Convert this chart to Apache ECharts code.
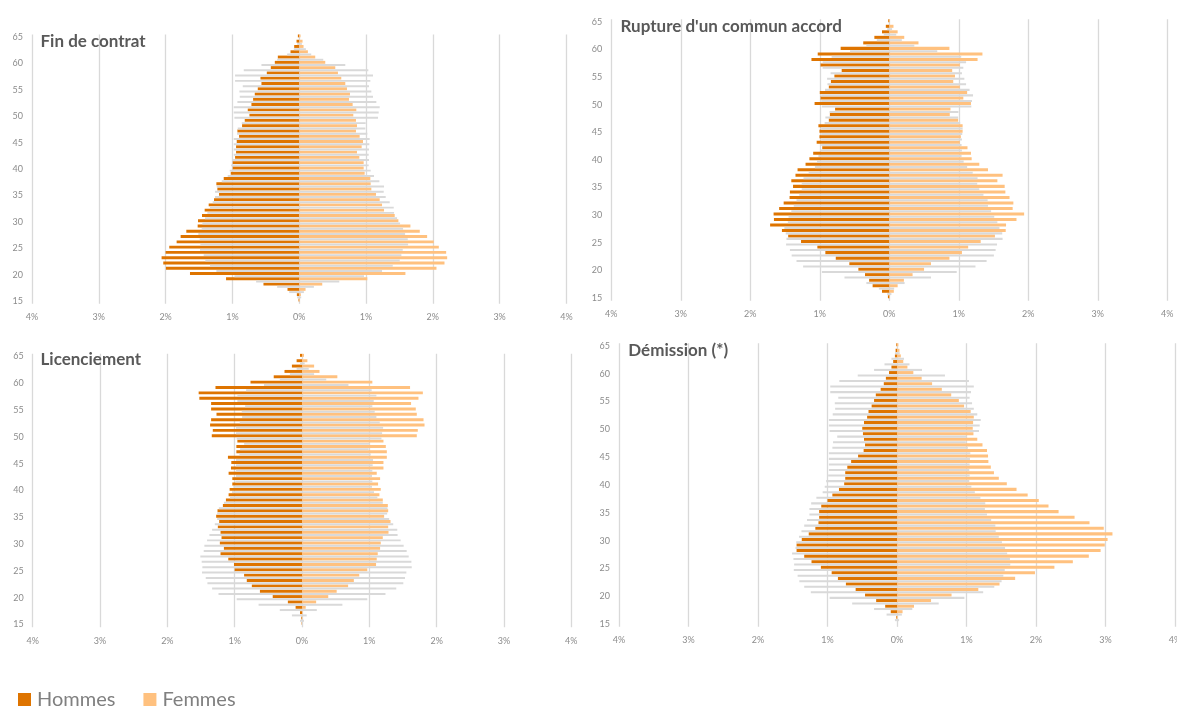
<!DOCTYPE html>
<html>
<head>
<meta charset="utf-8">
<script src="https://cdn.jsdelivr.net/npm/echarts@6/dist/echarts.min.js"></script>
<style>
html,body{margin:0;padding:0;background:#fff;}
#chart{width:1177px;height:709px;}
</style>
</head>
<body>
<div id="chart"></div>
<script>
const ages = ['15','16','17','18','19','20','21','22','23','24','25','26','27','28','29','30','31','32','33','34','35','36','37','38','39','40','41','42','43','44','45','46','47','48','49','50','51','52','53','54','55','56','57','58','59','60','61','62','63','64','65'];
const xTicks = [-4,-3,-2,-1,0,1,2,3,4];

// values in % (ages 15 -> 65); Hommes drawn to the left
const finContratHommes = [0.01,0.035,0.175,0.535,1.095,1.635,1.995,2.035,2.06,2.0,1.945,1.835,1.775,1.69,1.52,1.515,1.455,1.415,1.355,1.275,1.2,1.225,1.24,1.13,1.025,0.995,0.995,0.96,0.945,0.945,0.935,0.9,0.925,0.855,0.815,0.745,0.77,0.715,0.69,0.665,0.62,0.565,0.58,0.485,0.425,0.365,0.32,0.13,0.075,0.04,0.02];
const finContratFemmes = [0.01,0.025,0.095,0.345,1.02,1.59,2.055,2.175,2.215,2.2,2.09,2.015,1.915,1.805,1.665,1.485,1.43,1.27,1.24,1.205,1.15,1.08,1.07,1.065,0.98,0.965,0.965,0.9,0.865,0.935,0.955,0.905,0.85,0.865,0.85,0.81,0.855,0.8,0.745,0.76,0.715,0.69,0.63,0.58,0.54,0.39,0.24,0.13,0.065,0.05,0.02];

const ruptureHommes = [0.02,0.105,0.24,0.29,0.35,0.445,0.575,0.77,0.92,1.035,1.27,1.455,1.545,1.715,1.66,1.665,1.585,1.52,1.435,1.43,1.385,1.41,1.35,1.32,1.205,1.15,1.095,0.965,1.045,1.005,1.005,1.02,0.87,0.855,0.78,1.075,0.99,1.0,0.87,0.84,0.79,0.685,0.99,1.12,1.03,0.7,0.375,0.215,0.105,0.05,0.015];
const ruptureFemmes = [0.01,0.065,0.12,0.21,0.335,0.5,0.6,0.865,1.045,1.135,1.315,1.52,1.675,1.68,1.83,1.94,1.775,1.785,1.73,1.67,1.66,1.555,1.63,1.42,1.295,1.185,1.175,1.125,1.015,1.03,1.055,1.055,0.99,0.87,0.88,1.175,1.065,1.12,1.015,0.92,0.945,0.905,1.015,1.27,1.34,0.865,0.42,0.215,0.12,0.06,0.01];

const licenciementHommes = [0.005,0.01,0.03,0.095,0.21,0.435,0.625,0.745,0.82,0.86,1.0,1.01,1.095,1.21,1.16,1.22,1.195,1.21,1.25,1.23,1.275,1.255,1.175,1.13,1.09,1.075,1.035,1.035,1.09,1.055,1.05,1.1,0.975,0.975,0.96,1.34,1.325,1.365,1.35,1.27,1.35,1.35,1.525,1.535,1.285,0.765,0.42,0.26,0.15,0.08,0.03];
const licenciementFemmes = [0,0.005,0.01,0.055,0.21,0.39,0.515,0.685,0.77,0.85,0.97,1.1,1.11,1.125,1.16,1.17,1.2,1.285,1.28,1.315,1.22,1.28,1.275,1.2,1.15,1.17,1.13,1.16,1.11,1.21,1.21,1.26,1.26,1.245,1.21,1.705,1.72,1.82,1.805,1.705,1.69,1.62,1.73,1.795,1.605,1.045,0.525,0.26,0.18,0.08,0.03];

const demissionHommes = [0,0.01,0.09,0.17,0.3,0.46,0.595,0.735,0.85,0.94,1.095,1.23,1.335,1.445,1.445,1.37,1.27,1.175,1.13,1.12,1.12,1.09,1.0,0.93,0.835,0.76,0.745,0.745,0.715,0.66,0.56,0.48,0.46,0.475,0.49,0.5,0.475,0.43,0.41,0.365,0.33,0.305,0.235,0.19,0.16,0.115,0.08,0.055,0.03,0.02,0.01];
const demissionFemmes = [0,0.01,0.08,0.245,0.49,0.785,1.17,1.475,1.7,1.985,2.265,2.53,2.76,2.93,2.99,3.03,3.1,2.975,2.77,2.555,2.325,2.18,2.04,1.88,1.72,1.58,1.465,1.395,1.35,1.315,1.31,1.295,1.23,1.155,1.1,1.09,1.095,1.105,1.06,0.965,0.89,0.78,0.645,0.505,0.355,0.235,0.15,0.09,0.055,0.035,0.02];

// grey reference profile (same in the four panels)
const referenceHommes = [0,0.03,0.15,0.33,0.645,0.97,1.24,1.335,1.405,1.43,1.485,1.48,1.49,1.51,1.46,1.45,1.41,1.375,1.335,1.295,1.26,1.26,1.235,1.16,1.07,1.04,1.02,0.99,0.98,0.98,0.98,0.98,0.93,0.92,0.86,0.97,0.98,0.98,0.925,0.89,0.895,0.845,0.96,0.96,0.83,0.565,0.33,0.18,0.08,0.03,0];
const referenceFemmes = [0.005,0.03,0.07,0.22,0.6,0.97,1.24,1.4,1.505,1.53,1.55,1.63,1.625,1.585,1.555,1.51,1.465,1.42,1.415,1.355,1.295,1.265,1.27,1.2,1.12,1.07,1.04,1.045,1.04,1.045,1.05,1.055,1.02,0.99,0.995,1.18,1.19,1.205,1.155,1.105,1.08,1.045,1.065,1.105,1.035,0.69,0.36,0.18,0.1,0.04,0.01];

const panelTitles = ['Fin de contrat', "Rupture d'un commun accord", 'Licenciement', 'Démission (*)'];

const COL_H = '#DE7400', COL_F = '#FFC17F', COL_REF = '#D9D9D9';
const grids = [
  {left:32, top:34.4, width:534.4, height:269.3},
  {left:611.3, top:19.2, width:556, height:281.5},
  {left:32.7, top:353.8, width:538.6, height:273.4},
  {left:619, top:343.2, width:556, height:283.6}
];
const titlePos = [[40.5,41.5],[620.5,26.5],[40.5,360],[628.3,350.5]];
const panels = [
  [finContratHommes, finContratFemmes],
  [ruptureHommes, ruptureFemmes],
  [licenciementHommes, licenciementFemmes],
  [demissionHommes, demissionFemmes]
];

const FONT = 'Lato';
const xAxes = [], yAxes = [], series = [], gridOpts = [], graphics = [];
grids.forEach((g, i) => {
  gridOpts.push(Object.assign({outerBoundsMode:'none', containLabel:false}, g));
  xAxes.push({
    type:'value', gridIndex:i, min:xTicks[0], max:xTicks[xTicks.length-1], interval:1,
    axisLine:{show:false}, axisTick:{show:false},
    axisLabel:{formatter:v => Math.abs(v) + '%', fontSize:9, color:'#8c8c8c', fontFamily:FONT, margin:9},
    splitLine:{show:true, lineStyle:{color:COL_REF, width:1.3}}
  });
  yAxes.push({
    type:'category', gridIndex:i, data:ages,
    axisLine:{show:false}, axisTick:{show:false},
    axisLabel:{interval:4, fontSize:9, color:'#8c8c8c', fontFamily:FONT, margin:9},
    splitLine:{show:false}
  });
  const [h, f] = panels[i];
  const common = {type:'bar', xAxisIndex:i, yAxisIndex:i, barGap:'10%', silent:true};
  series.push(Object.assign({}, common, {name:'Hommes', stack:'obs'+i, barWidth:'55%', itemStyle:{color:COL_H}, data:h.map(v => -v)}));
  series.push(Object.assign({}, common, {name:'Femmes', stack:'obs'+i, barWidth:'55%', itemStyle:{color:COL_F}, data:f.slice()}));
  series.push(Object.assign({}, common, {name:'Référence H', stack:'ref'+i, barWidth:'37%', itemStyle:{color:COL_REF}, data:referenceHommes.map(v => -v)}));
  series.push(Object.assign({}, common, {name:'Référence F', stack:'ref'+i, barWidth:'37%', itemStyle:{color:COL_REF}, data:referenceFemmes.slice()}));
  graphics.push({
    type:'text', x:titlePos[i][0], y:titlePos[i][1], z:100,
    style:{text:panelTitles[i], font:'bold 17px ' + FONT, fill:'#595959', verticalAlign:'middle', align:'left'}
  });
});

const chart = echarts.init(document.getElementById('chart'), null, {renderer:'canvas'});
chart.setOption({
  animation:false,
  backgroundColor:'#ffffff',
  grid:gridOpts,
  xAxis:xAxes,
  yAxis:yAxes,
  series:series,
  graphic:graphics,
  legend:{
    data:['Hommes','Femmes'], left:18, top:689.5, padding:0,
    icon:'rect', itemWidth:13, itemHeight:13, itemGap:28,
    textStyle:{fontSize:20, color:'#808080', fontFamily:FONT, padding:[0,0,0,1]},
    selectedMode:false
  }
});
</script>
</body>
</html>
